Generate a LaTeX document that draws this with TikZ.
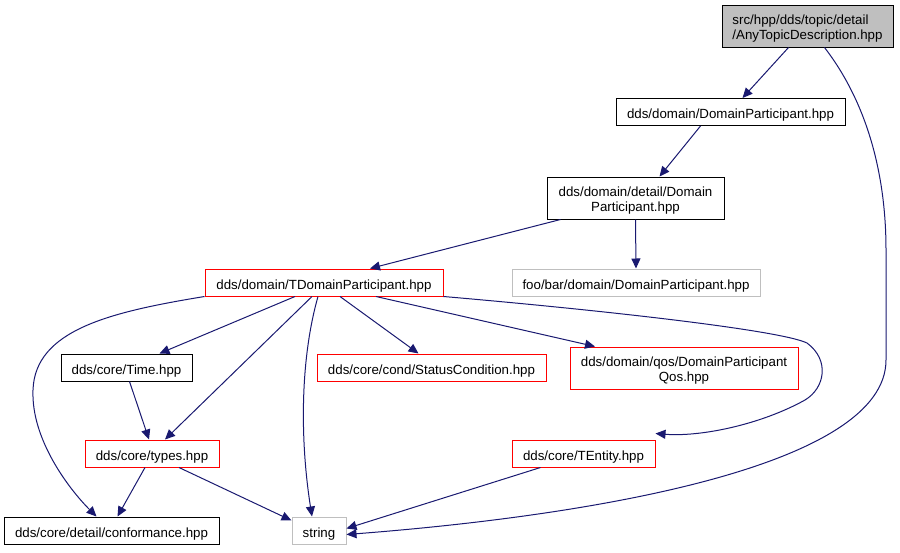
\documentclass[tikz,border=0pt]{standalone}
\usepackage{fontspec}
\setmainfont{Liberation Sans}
\usetikzlibrary{arrows.meta,calc}
\definecolor{edgeblue}{RGB}{25,25,112}
\definecolor{grayline}{RGB}{191,191,191}
\begin{document}
\begin{tikzpicture}[x=1pt,y=-1pt,
  box/.style={draw=black,line width=1pt,inner sep=0pt,minimum height=27pt,text height=13.7pt,text depth=0pt,font=\fontsize{13.3}{15}\selectfont},
  twoline/.style={minimum height=42pt,text height=27.8pt,text depth=0pt},
  redbox/.style={box,draw=red},
  graybox/.style={box,draw=grayline},
  edge/.style={draw=edgeblue,line width=1pt,-{Triangle[length=10pt,width=9pt]}}]
\useasboundingbox (0,0) rectangle (900,552);
\node[box,twoline,fill=grayline,minimum width=171pt,align=left] (top) at (807.5,26) {src/hpp/dds/topic/detail\\/AnyTopicDescription.hpp};
\node[box,minimum width=229pt] (dp) at (730.5,112) {dds/domain/DomainParticipant.hpp};
\node[box,twoline,minimum width=177pt,align=center] (ddp) at (635.5,198) {dds/domain/detail/Domain\\Participant.hpp};
\node[redbox,minimum width=238pt] (tdp) at (324,282.5) {dds/domain/TDomainParticipant.hpp};
\node[graybox,minimum width=248pt] (foo) at (636,282.5) {foo/bar/domain/DomainParticipant.hpp};
\node[box,minimum width=131pt] (time) at (126.5,367.5) {dds/core/Time.hpp};
\node[redbox,minimum width=229pt] (sc) at (431.5,367.5) {dds/core/cond/StatusCondition.hpp};
\node[redbox,twoline,minimum width=228pt,align=center] (qos) at (684,368) {dds/domain/qos/DomainParticipant\\Qos.hpp};
\node[redbox,minimum width=134pt] (types) at (152,453.5) {dds/core/types.hpp};
\node[redbox,minimum width=143pt] (tent) at (583.5,453.5) {dds/core/TEntity.hpp};
\node[box,minimum width=215pt] (conf) at (111.5,530.5) {dds/core/detail/conformance.hpp};
\node[graybox,minimum width=54pt] (str) at (319,530.5) {string};

\draw[edge] ([xshift=-19pt]top.south) -- ([xshift=12pt]dp.north);
\draw[edge] ([xshift=17pt]top.south) .. controls (865,100) and (886,170) .. (886,250) -- (886,360) .. controls (886,465) and (600,515) .. ([yshift=-4pt]str.east);
\draw[edge] ([xshift=-30pt]dp.south) -- ([xshift=24pt]ddp.north);
\draw[edge] ([xshift=-75pt]ddp.south) -- ([xshift=46pt]tdp.north);
\draw[edge] (ddp.south) -- (foo.north);
\draw[edge] (tdp.south west) .. controls (110,312) and (35,330) .. (33,390) .. controls (31,440) and (70,490) .. ([xshift=-15pt]conf.north);
\draw[edge] ([xshift=-29pt]tdp.south) -- ([xshift=33pt]time.north);
\draw[edge] ([xshift=-12pt]tdp.south) -- ([xshift=13pt]types.north);
\draw[edge] ([xshift=-6pt]tdp.south) .. controls (300,360) and (300,440) .. ([xshift=-7pt]str.north);
\draw[edge] ([xshift=16pt]tdp.south) -- ([xshift=-13pt]sc.north);
\draw[edge] ([xshift=52pt]tdp.south) -- ([xshift=-89pt]qos.north);
\draw[edge] (tdp.south east) .. controls (600,310) and (780,330) .. (807,343) .. controls (830,360) and (825,388) .. (805,400) .. controls (760,425) and (700,437) .. ([yshift=6pt]tent.north east);
\draw[edge] ([xshift=3pt]time.south) -- ([xshift=-3pt]types.north);
\draw[edge] ([xshift=-7pt]types.south) -- ([xshift=6pt]conf.north);
\draw[edge] ([xshift=27pt]types.south) -- ([yshift=-4pt]str.north west);
\draw[edge] ([xshift=-43pt]tent.south) -- ([yshift=2pt]str.east);
\end{tikzpicture}
\end{document}
